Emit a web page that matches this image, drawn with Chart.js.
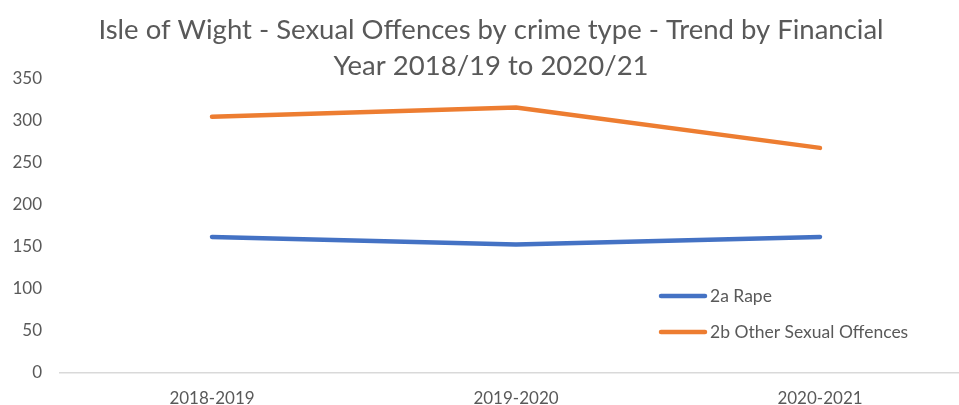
<!DOCTYPE html>
<html>
<head>
<meta charset="utf-8">
<script src="https://cdn.jsdelivr.net/npm/chart.js@4.4.0/dist/chart.umd.min.js"></script>
<style>
  html, body { margin: 0; padding: 0; background: #fff; overflow: hidden; }
  #wrap { width: 982px; height: 405px; }
</style>
</head>
<body>
<div id="wrap"><canvas id="offencesChart" width="982" height="405"></canvas></div>
<script>
// financial years and recorded offences per crime type
const years = ["2018-2019", "2019-2020", "2020-2021"];
const rapeCounts = [162, 153, 162];
const otherSexualCounts = [305, 316, 268];
const seriesNames = ["2a Rape", "2b Other Sexual Offences"];
const yTicks = [0, 50, 100, 150, 200, 250, 300, 350];

const textColor = "#595959";
const fontFamily = "Lato, 'Open Sans', sans-serif";
const blue = "#4472C4";
const orange = "#ED7D31";

// title drawn by hand so both lines sit where they should
const titlePlugin = {
  id: "twoLineTitle",
  afterDraw(chart) {
    const ctx = chart.ctx;
    ctx.save();
    ctx.fillStyle = textColor;
    ctx.font = "27.5px " + fontFamily;
    ctx.textAlign = "center";
    ctx.textBaseline = "middle";
    const cx = chart.width / 2;
    ctx.fillText("Isle of Wight - Sexual Offences by crime type - Trend by Financial", cx, 30);
    ctx.fillText("Year 2018/19 to 2020/21", cx, 66);
    ctx.restore();
  }
};

// legend sits inside the plot, lower right
const legendPlugin = {
  id: "innerLegend",
  afterDraw(chart) {
    const ctx = chart.ctx;
    const area = chart.chartArea;
    ctx.save();
    ctx.font = "17.5px " + fontFamily;
    ctx.textBaseline = "middle";
    chart.data.datasets.forEach(function (ds, i) {
      const y = area.top + 217 + i * 36;
      const x = area.left + 601;
      ctx.strokeStyle = ds.borderColor;
      ctx.lineWidth = 4.5;
      ctx.lineCap = "round";
      ctx.beginPath();
      ctx.moveTo(x, y);
      ctx.lineTo(x + 44, y);
      ctx.stroke();
      ctx.fillStyle = textColor;
      ctx.fillText(ds.label, x + 49, y);
    });
    ctx.restore();
  }
};

new Chart(document.getElementById("offencesChart"), {
  type: "line",
  data: {
    labels: years,
    datasets: [
      { label: seriesNames[0], data: rapeCounts, borderColor: blue, backgroundColor: blue },
      { label: seriesNames[1], data: otherSexualCounts, borderColor: orange, backgroundColor: orange }
    ]
  },
  options: {
    responsive: false,
    animation: false,
    devicePixelRatio: 1,
    layout: { padding: { top: 79, right: 10, left: 0, bottom: 0 } },
    elements: {
      line: { borderWidth: 4.5, borderCapStyle: "round", borderJoinStyle: "round", tension: 0 },
      point: { radius: 0, hoverRadius: 0 }
    },
    plugins: {
      legend: { display: false },
      title: { display: false },
      tooltip: { enabled: false }
    },
    scales: {
      x: {
        offset: true,
        grid: { display: false, drawTicks: false },
        border: { display: true, color: "#D9D9D9", width: 1.5 },
        ticks: { color: textColor, font: { family: fontFamily, size: 17 }, padding: 15, maxRotation: 0 },
        afterFit(scale) { scale.height = 32; }
      },
      y: {
        min: 0,
        max: 350,
        grid: { display: false, drawTicks: false },
        border: { display: false },
        afterBuildTicks(scale) { scale.ticks = yTicks.map(v => ({ value: v })); },
        ticks: { color: textColor, font: { family: fontFamily, size: 17 }, padding: 18 },
        afterFit(scale) { scale.width = 60; }
      }
    }
  },
  plugins: [titlePlugin, legendPlugin]
});
</script>
</body>
</html>
